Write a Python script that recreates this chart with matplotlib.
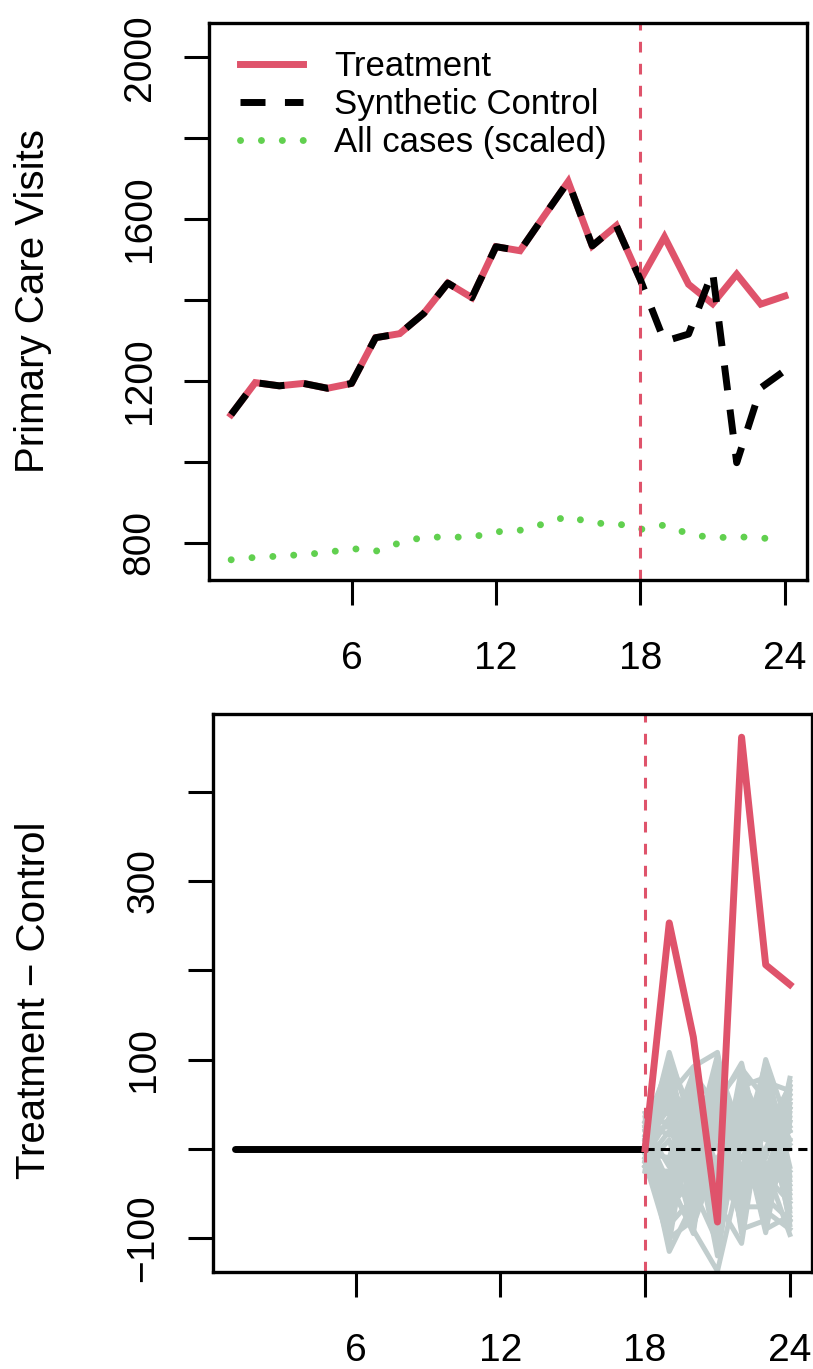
import matplotlib
matplotlib.use("Agg")
import matplotlib.pyplot as plt

plt.rcParams['font.family'] = ['Liberation Sans', 'DejaVu Sans']

# time points (months)
months = list(range(1, 25))
intervention = 18

# top panel series
treatment = [1117, 1196, 1188, 1194, 1182, 1194, 1307, 1317, 1367, 1442, 1406, 1532,
             1522, 1608, 1693, 1534, 1584, 1450, 1556, 1439, 1391, 1464, 1390, 1410]
synthetic = [1117, 1196, 1188, 1194, 1182, 1194, 1307, 1317, 1367, 1442, 1406, 1532,
             1522, 1608, 1693, 1534, 1584, 1450, 1298, 1316, 1470, 998, 1183, 1226]
all_cases = [758, 764, 767, 771, 776, 786, 779, 800, 814, 814, 814, 827,
             831, 847, 866, 848, 848, 833, 844, 822, 812, 815, 812, 807]

# bottom panel: gap (treatment - synthetic control)
gap = [0] * 17 + [0, 253, 125, -82, 461, 206, 184]

# placebo gaps, post period (months 18..24)
post_months = list(range(18, 25))
placebos = [
    [0, 108, 20, -30, 40, 10, 60],
    [10, -115, -60, -20, -10, 30, -40],
    [-10, 60, 92, 108, -30, 100, 20],
    [20, -40, -91, -137, -20, -50, 79],
    [5, 90, -30, 50, 96, -20, -96],
    [-20, -80, 40, -60, -106, 70, 10],
    [30, 30, -50, 80, 20, -94, 50],
    [-5, -60, 70, 10, 60, 40, -80],
    [15, 80, 10, -90, 30, -60, 30],
    [0, -100, -80, 30, -70, 90, -30],
    [40, 50, 60, -40, 80, 20, 70],
    [-15, 20, -20, 90, -50, -30, -60],
    [25, -20, 80, -100, 10, 60, 0],
    [-25, 70, -70, 60, -90, -80, 40],
    [10, -50, 30, -70, 70, 80, -70],
    [35, 40, -10, 100, -60, 0, 60],
    [-10, -30, 50, -20, 50, -70, -90],
    [5, 100, -40, 20, -30, 50, 20],
    [20, -70, 90, -50, 90, -40, 50],
    [-20, 10, -90, 70, -80, 30, -50],
    [0, -90, 20, -120, 40, -10, 75],
    [30, 60, -60, 40, 0, 95, -20],
    [-5, -10, 75, -80, 85, -85, 30],
    [15, 85, 0, 105, -40, 60, -85],
    [-15, -105, 55, 0, 65, -50, 10],
    [10, 45, -75, 25, -85, 45, -65],
    [-20, -45, 65, -35, 45, -75, 65],
    [25, 95, -20, -60, 75, -25, 45],
    [0, -75, 45, 65, -45, 85, -45],
    [-10, 35, -45, -105, 55, 15, 55],
    [20, -95, 85, 45, -65, -65, 35],
    [5, 75, -85, -10, 25, -90, -75],
    [-25, -25, 25, 85, -95, 75, 65],
    [15, 55, 50, -75, 5, -45, -25],
    [0, -65, -35, 55, 90, 55, -55],
    [30, 15, 85, -45, -20, 35, 5],
    [-15, -85, -55, 35, 35, -75, 70],
    [10, 100, 35, -25, -75, 90, -35],
    [-5, -35, -95, 95, 15, -5, 45],
    [20, 25, 15, -85, 70, -55, -80],
    [-20, -55, 80, 15, -55, 65, 25],
]

xticks = [6, 12, 18, 24]
top_yticks = [800, 1000, 1200, 1400, 1600, 1800, 2000]
top_ylabels = ['800', '', '1200', '', '1600', '', '2000']
bot_yticks = [-100, 0, 100, 200, 300, 400]
bot_ylabels = ['\u2212100', '', '100', '', '300', '']

RED = '#DF536B'
GREEN = '#61D04F'
GREY = '#C1CDCD'

W, H = 813, 1369
fig = plt.figure(figsize=(W / 100, H / 100), dpi=100)
ax1 = fig.add_axes([209 / W, 1 - 580 / H, 598 / W, 557 / H])
ax2 = fig.add_axes([213 / W, 1 - 1272 / H, 599 / W, 558 / H])

xlim = (0.08, 24.92)


def style_axes(ax, yticks, ylabels):
    ax.set_xlim(*xlim)
    ax.set_xticks(xticks)
    ax.set_yticks(yticks)
    ax.set_yticklabels(ylabels)
    for s in ax.spines.values():
        s.set_linewidth(2.4)
    ax.tick_params(axis='both', length=18, width=2.2, labelsize=28)
    ax.tick_params(axis='x', pad=26)
    ax.tick_params(axis='y', pad=19, labelrotation=90)
    for lab in ax.get_yticklabels():
        lab.set_va('center')


# top panel
ax1.plot(months, treatment, color=RED, lw=5, solid_joinstyle='miter', label='Treatment')
ax1.plot(months, synthetic, color='black', lw=5, linestyle=(0, (3.6, 2.8)),
         dash_capstyle='butt', label='Synthetic Control')
ax1.plot(months, all_cases, color=GREEN, lw=5, linestyle=(0, (0.01, 3.0)),
         dash_capstyle='round', label='All cases (scaled)')
ax1.axvline(intervention, color=RED, lw=2.2, linestyle=(0, (3.5, 3.7)))
ax1.set_ylim(708, 2085)
style_axes(ax1, top_yticks, top_ylabels)
ax1.legend(loc='upper left', bbox_to_anchor=(0.052, 0.952), frameon=False,
           fontsize=25, handlelength=1.8, handletextpad=0.9, labelspacing=0.15,
           borderpad=0, borderaxespad=0)

# bottom panel
for p in placebos:
    ax2.plot(post_months, p, color=GREY, lw=3.6)
ax2.plot(months[:intervention], gap[:intervention], color='black', lw=5,
         solid_capstyle='round')
x0, x1 = xlim
ax2.axhline(0, xmin=(intervention - x0) / (x1 - x0), color='black', lw=2.2,
            linestyle=(0, (3, 2)))
ax2.plot(months[intervention - 1:], gap[intervention - 1:], color=RED, lw=5)
ax2.axvline(intervention, color=RED, lw=2.2, linestyle=(0, (3.5, 3.7)))
ax2.set_ylim(-138, 487)
style_axes(ax2, bot_yticks, bot_ylabels)

fig.text(33 / W, 1 - 301 / H, 'Primary Care Visits', rotation=90, ha='center',
         va='center', fontsize=29)
fig.text(34 / W, 1 - 1000 / H, 'Treatment \u2212 Control', rotation=90, ha='center',
         va='center', fontsize=29)

fig.savefig('out.png', dpi=100)
